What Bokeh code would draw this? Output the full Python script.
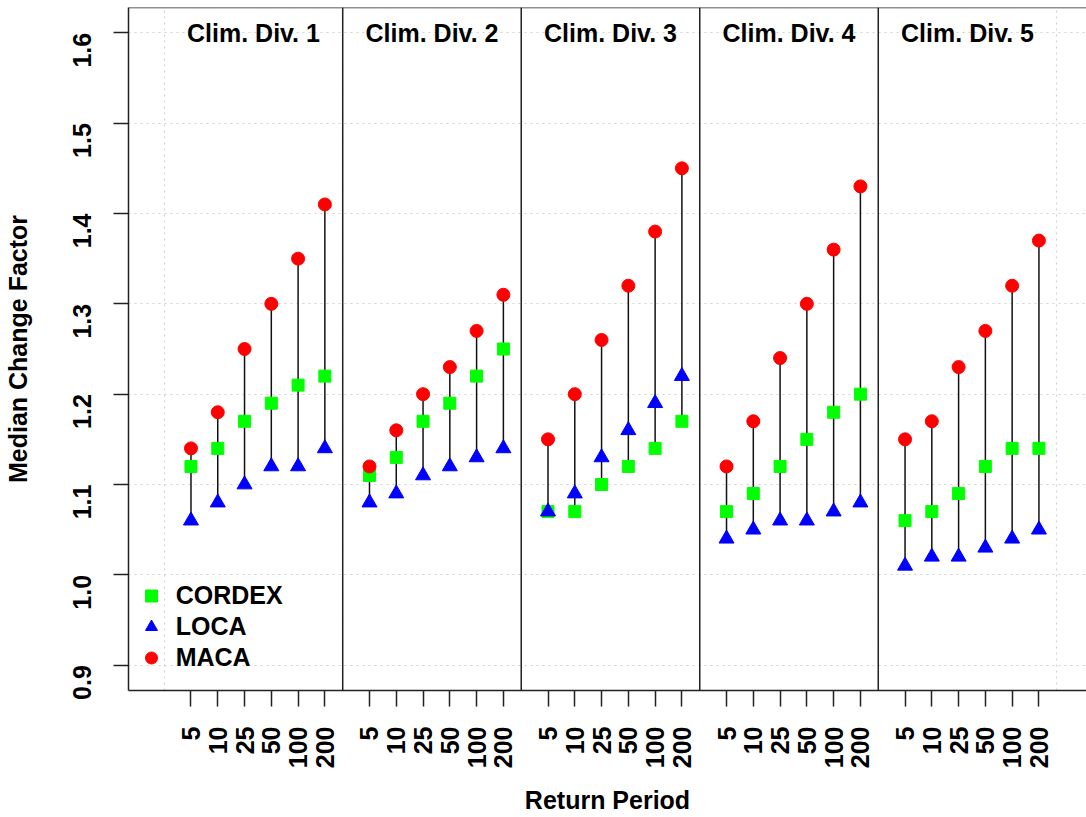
import json
from math import pi
from bokeh.plotting import figure
from bokeh.models import (Range1d, FixedTicker, PrintfTickFormatter, CustomJSTickFormatter,
                          Span, Legend, LegendItem, ColumnDataSource)
from bokeh.core.properties import value
from bokeh.embed import file_html
from bokeh.resources import INLINE

# ---------------- data ----------------
divisions = ["Clim. Div. 1", "Clim. Div. 2", "Clim. Div. 3", "Clim. Div. 4", "Clim. Div. 5"]
return_periods = ["5", "10", "25", "50", "100", "200"]
series_names = ["CORDEX", "LOCA", "MACA"]

cordex = [1.12, 1.14, 1.17, 1.19, 1.21, 1.22,
          1.11, 1.13, 1.17, 1.19, 1.22, 1.25,
          1.07, 1.07, 1.10, 1.12, 1.14, 1.17,
          1.07, 1.09, 1.12, 1.15, 1.18, 1.20,
          1.06, 1.07, 1.09, 1.12, 1.14, 1.14]
loca = [1.06, 1.08, 1.10, 1.12, 1.12, 1.14,
        1.08, 1.09, 1.11, 1.12, 1.13, 1.14,
        1.07, 1.09, 1.13, 1.16, 1.19, 1.22,
        1.04, 1.05, 1.06, 1.06, 1.07, 1.08,
        1.01, 1.02, 1.02, 1.03, 1.04, 1.05]
maca = [1.14, 1.18, 1.25, 1.30, 1.35, 1.41,
        1.12, 1.16, 1.20, 1.23, 1.27, 1.31,
        1.15, 1.20, 1.26, 1.32, 1.38, 1.45,
        1.12, 1.17, 1.24, 1.30, 1.36, 1.43,
        1.15, 1.17, 1.23, 1.27, 1.32, 1.37]
y_ticks = [0.9, 1.0, 1.1, 1.2, 1.3, 1.4, 1.5, 1.6]

# ---------------- layout helpers ----------------
GROUP = 20   # width of one division panel (x units)
STEP = 3     # spacing between return periods
FONT = "Liberation Sans"
FS = "25px"

n_div = len(divisions)
n_rp = len(return_periods)
xs = [g * GROUP + STEP * (k + 1) for g in range(n_div) for k in range(n_rp)]
lo = [min(a, b, c) for a, b, c in zip(cordex, loca, maca)]
hi = [max(a, b, c) for a, b, c in zip(cordex, loca, maca)]
tick_map = {str(xs[g * n_rp + k]): return_periods[k] for g in range(n_div) for k in range(n_rp)}

src = ColumnDataSource(dict(x=xs, lo=lo, hi=hi, cordex=cordex, loca=loca, maca=maca))

Y0, Y1 = 0.872, 1.628
p = figure(width=1086, height=817, output_backend="svg", toolbar_location=None,
           x_range=Range1d(-4, 103.33), y_range=Range1d(Y0, Y1),
           min_border_left=128, min_border_right=0, min_border_top=7, min_border_bottom=127)
p.outline_line_color = None
p.background_fill_color = "white"
p.border_fill_color = "white"

# grid
p.xgrid.ticker = FixedTicker(ticks=[g * GROUP for g in range(n_div + 1)])
p.ygrid.ticker = FixedTicker(ticks=y_ticks)
for gr in (p.xgrid, p.ygrid):
    gr.grid_line_color = "#d3d3d3"
    gr.grid_line_dash = "2 4"
    gr.grid_line_width = 1.2

# axes
xa = p.xaxis[0]
xa.ticker = FixedTicker(ticks=xs)
xa.formatter = CustomJSTickFormatter(code="const m = " + json.dumps(tick_map) + "; return m[String(tick)] || '';")
xa.major_label_orientation = pi / 2
xa.major_tick_out = 16
xa.major_tick_in = 0
xa.major_label_standoff = 20
xa.minor_tick_line_color = None
xa.axis_label = "Return Period"
xa.axis_label_standoff = 15

ya = p.yaxis[0]
ya.ticker = FixedTicker(ticks=y_ticks)
ya.formatter = PrintfTickFormatter(format="%.1f")
ya.major_label_orientation = pi / 2
ya.major_tick_out = 15
ya.major_tick_in = 0
ya.major_label_standoff = 31
ya.minor_tick_line_color = None
ya.axis_label = "Median Change Factor"
ya.axis_label_standoff = 30

for ax in (xa, ya):
    ax.axis_line_color = "#222222"
    ax.axis_line_width = 1.5
    ax.major_tick_line_color = "#222222"
    ax.major_tick_line_width = 1.5
    ax.major_label_text_font = FONT
    ax.major_label_text_font_style = "bold"
    ax.major_label_text_font_size = FS
    ax.major_label_text_color = "black"
    ax.axis_label_text_font = FONT
    ax.axis_label_text_font_style = "bold"
    ax.axis_label_text_font_size = FS
    ax.axis_label_text_color = "black"

# top border
p.add_layout(Span(location=Y1, dimension="width", line_color="#222222", line_width=1.5))

# division separators
for g in range(1, n_div):
    p.add_layout(Span(location=g * GROUP, dimension="height", line_color="#222222", line_width=1.5))

# stems
p.segment(x0="x", y0="lo", x1="x", y1="hi", source=src, line_color="#111111", line_width=1.5)

# points
r_c = p.scatter("x", "cordex", source=src, marker="square", size=12,
                fill_color="#00ff00", line_color="#00ff00")
r_l = p.scatter("x", "loca", source=src, marker="triangle", size=15,
                fill_color="#0000ff", line_color="#0000ff")
r_m = p.scatter("x", "maca", source=src, marker="circle", size=13,
                fill_color="#ff0000", line_color="#ff0000")

# division titles
tsrc = ColumnDataSource(dict(x=[g * GROUP + GROUP / 2 for g in range(n_div)],
                             y=[y_ticks[-1]] * n_div, t=divisions))
p.text("x", "y", text="t", source=tsrc, text_font=value(FONT), text_font_style="bold",
       text_font_size=FS, text_align="center", text_baseline="middle", text_color="black")

# legend
legend = Legend(items=[LegendItem(label=series_names[0], renderers=[r_c]),
                       LegendItem(label=series_names[1], renderers=[r_l]),
                       LegendItem(label=series_names[2], renderers=[r_m])],
                location=(7.7, 16.7), padding=0, margin=0, spacing=0,
                glyph_width=30, glyph_height=31, label_height=31, label_standoff=10,
                border_line_color=None, background_fill_alpha=0,
                label_text_font=FONT, label_text_font_style="bold",
                label_text_font_size=FS, label_text_baseline="middle",
                label_text_color="black")
p.add_layout(legend)

open("out.html", "w").write(file_html(p, INLINE))
